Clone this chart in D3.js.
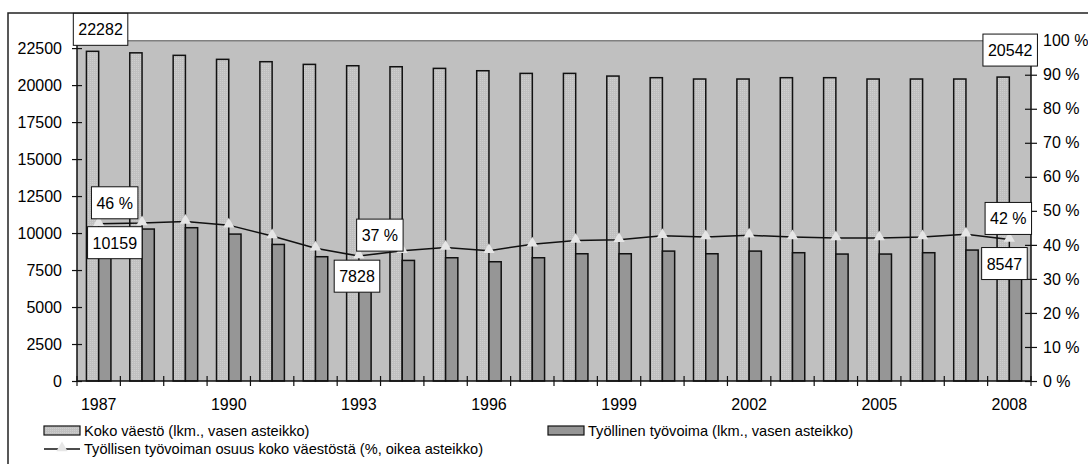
<!DOCTYPE html>
<html><head><meta charset="utf-8">
<script src="https://cdn.jsdelivr.net/npm/d3@7"></script>
<style>
html,body{margin:0;padding:0;background:#fff;}
svg{display:block;font-family:"Liberation Sans",Arial,sans-serif;}
</style></head>
<body>
<svg id="c" width="1088" height="464"></svg>
<script>
const years = [1987,1988,1989,1990,1991,1992,1993,1994,1995,1996,1997,1998,1999,2000,2001,2002,2003,2004,2005,2006,2007,2008];
const kokoVaesto = [22282,22180,22010,21740,21580,21400,21307,21240,21130,20970,20790,20790,20610,20500,20410,20410,20500,20500,20410,20410,20410,20542];
const tyollinen = [10159,10270,10360,9930,9230,8400,7828,8150,8330,8060,8330,8600,8600,8780,8600,8780,8670,8580,8580,8670,8850,8547];
const osuus = [46.2,46.4,46.9,45.8,42.6,39.0,36.7,38.3,39.2,38.3,40.2,41.3,41.5,42.7,42.3,42.8,42.3,42.0,42.0,42.3,43.1,41.6];
const leftTicks = [0,2500,5000,7500,10000,12500,15000,17500,20000,22500];
const rightTicks = [0,10,20,30,40,50,60,70,80,90,100];
const yearLabels = [1987,1990,1993,1996,1999,2002,2005,2008];
const legendLabels = ["Koko väestö (lkm., vasen asteikko)","Työllinen työvoima (lkm., vasen asteikko)","Työllisen työvoiman osuus koko väestöstä (%, oikea asteikko)"];
// data labels: series, year index, text, offset from the point
const dataLabels = [
  {s:"koko", i:0, t:"22282", dx:8, dy:-22},
  {s:"koko", i:21, t:"20542", dx:7, dy:-27},
  {s:"tyo", i:0, t:"10159", dx:10, dy:12},
  {s:"tyo", i:6, t:"7828", dx:-8, dy:11},
  {s:"tyo", i:21, t:"8547", dx:-11, dy:9},
  {s:"pct", i:0, t:"46 %", dx:16, dy:-21},
  {s:"pct", i:6, t:"37 %", dx:21, dy:-21},
  {s:"pct", i:21, t:"42 %", dx:-1, dy:-21}
];

const svg = d3.select("#c");
const FS = 16;
const L = 77, R = 1031, T = 40.7, B = 381;

const defs = svg.append("defs");
const pat = defs.append("pattern").attr("id","dots").attr("width",2).attr("height",2).attr("patternUnits","userSpaceOnUse");
pat.append("rect").attr("width",2).attr("height",2).attr("fill","#c0c0c0");
pat.append("rect").attr("width",1).attr("height",1).attr("fill","#cecece");

// outer border
svg.append("rect").attr("x",8).attr("y",13).attr("width",1200).attr("height",600)
  .attr("fill","none").attr("stroke","#222").attr("stroke-width",1.5);

const x = d3.scaleBand().domain(years).range([L,R]).padding(0);
const xs = d3.scaleBand().domain(["koko","tyo"]).range([0,x.bandwidth()]).paddingOuter(0.77).paddingInner(0);
const yL = d3.scaleLinear().domain([0,23000]).range([B,T]);
const yR = d3.scaleLinear().domain([0,100]).range([B,T]);

svg.append("rect").attr("x",L).attr("y",T).attr("width",R-L).attr("height",B-T).attr("fill","#c0c0c0");
svg.append("line").attr("x1",L).attr("x2",R).attr("y1",T).attr("y2",T).attr("stroke","#808080").attr("stroke-width",1.5);

const g = svg.append("g");
g.selectAll(".k").data(years).join("rect")
  .attr("x",(d)=>x(d)+xs("koko")).attr("width",xs.bandwidth())
  .attr("y",(d,i)=>yL(kokoVaesto[i])).attr("height",(d,i)=>B-yL(kokoVaesto[i]))
  .attr("fill","url(#dots)").attr("stroke","#111").attr("stroke-width",1.5);
g.selectAll(".t").data(years).join("rect")
  .attr("x",(d)=>x(d)+xs("tyo")).attr("width",xs.bandwidth())
  .attr("y",(d,i)=>yL(tyollinen[i])).attr("height",(d,i)=>B-yL(tyollinen[i]))
  .attr("fill","#969696").attr("stroke","#111").attr("stroke-width",1.5);

const cx = d=>x(d)+x.bandwidth()/2;
svg.append("path").datum(years)
  .attr("d", d3.line().x(d=>cx(d)).y((d,i)=>yR(osuus[i])))
  .attr("fill","none").attr("stroke","#111").attr("stroke-width",1.5);
const tri = d3.symbol().type(d3.symbolTriangle).size(55);
svg.selectAll(".m").data(years).join("path")
  .attr("d",tri).attr("transform",(d,i)=>`translate(${cx(d)},${yR(osuus[i])-1})`)
  .attr("fill","#e6e6e6");

const axL = svg.append("g").attr("transform",`translate(${L},0)`)
  .call(d3.axisLeft(yL).tickValues(leftTicks).tickSize(0).tickPadding(15).tickFormat(d3.format("d")));
axL.select(".domain").attr("stroke","#111").attr("stroke-width",1.5).attr("d",`M0,${T}V${B}`);
axL.selectAll(".tick").append("line").attr("x1",-5).attr("x2",5).attr("stroke","#111").attr("stroke-width",1.2);

const axR = svg.append("g").attr("transform",`translate(${R},0)`)
  .call(d3.axisRight(yR).tickValues(rightTicks).tickSize(0).tickPadding(12).tickFormat(d=>d+" %"));
axR.select(".domain").attr("stroke","#111").attr("stroke-width",1.5).attr("d",`M0,${T}V${B}`);
axR.selectAll(".tick").append("line").attr("x1",-6).attr("x2",6).attr("stroke","#111").attr("stroke-width",1.2);

const axB = svg.append("g").attr("transform",`translate(0,${B})`)
  .call(d3.axisBottom(x).tickValues(yearLabels).tickSize(0).tickPadding(18));
axB.select(".domain").attr("stroke","#111").attr("stroke-width",1.5).attr("d",`M${L},0H${R}`);
svg.append("g").selectAll("line").data(years.concat(["end"])).join("line")
  .attr("x1",d=>d==="end"?R:x(d)).attr("x2",d=>d==="end"?R:x(d))
  .attr("y1",B-5).attr("y2",B+5).attr("stroke","#111").attr("stroke-width",1.2);

svg.selectAll(".tick text").attr("font-size",FS).attr("fill","#000").attr("font-family","Liberation Sans, Arial, sans-serif");

const lab = svg.append("g");
dataLabels.forEach(l=>{
  let px, py;
  if(l.s==="koko"){ px = x(years[l.i])+xs("koko")+xs.bandwidth()/2; py = yL(kokoVaesto[l.i]); }
  else if(l.s==="tyo"){ px = x(years[l.i])+xs("tyo")+xs.bandwidth()/2; py = yL(tyollinen[l.i]); }
  else { px = cx(years[l.i]); py = yR(osuus[l.i]); }
  const bx = px+l.dx, by = py+l.dy;
  const gg = lab.append("g");
  const r = gg.append("rect");
  const tx = gg.append("text").attr("x",bx).attr("y",by+6).attr("text-anchor","middle").attr("font-size",FS).text(l.t);
  const w = tx.node().getComputedTextLength()+10;
  r.attr("x",bx-w/2).attr("y",by-16).attr("width",w).attr("height",32).attr("fill","#fff").attr("stroke","#111").attr("stroke-width",1);
});

const lg = svg.append("g").attr("font-size",14.6);
const legItems = [
  {x:44, y:431, type:"koko", t:legendLabels[0]},
  {x:548, y:431, type:"tyo", t:legendLabels[1]},
  {x:44, y:449, type:"line", t:legendLabels[2]}
];
legItems.forEach(it=>{
  if(it.type==="line"){
    lg.append("line").attr("x1",it.x).attr("x2",it.x+36).attr("y1",it.y).attr("y2",it.y).attr("stroke","#111").attr("stroke-width",1.5);
    lg.append("path").attr("d",tri).attr("transform",`translate(${it.x+18},${it.y-1})`).attr("fill","#e6e6e6");
  } else {
    lg.append("rect").attr("x",it.x).attr("y",it.y-5).attr("width",36).attr("height",9)
      .attr("fill",it.type==="koko"?"url(#dots)":"#969696").attr("stroke","#111").attr("stroke-width",1.2);
  }
  lg.append("text").attr("x",it.x+40).attr("y",it.y+5).text(it.t);
});
</script>
</body></html>
